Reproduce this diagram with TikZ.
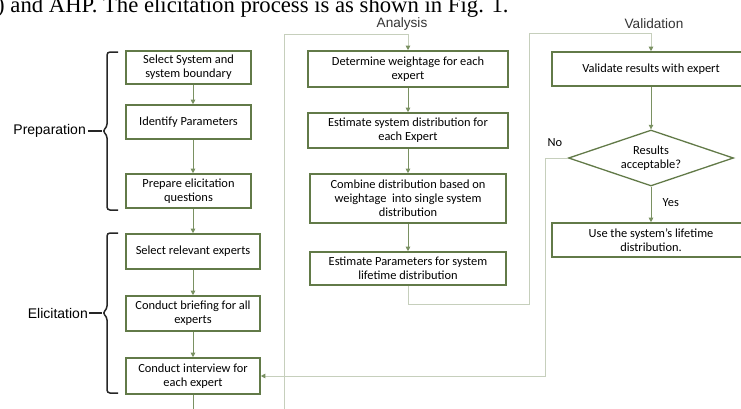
\documentclass[tikz,border=0pt]{standalone}
\usepackage{fontspec}
\setmainfont{Carlito}
\newfontfamily\headfont{Liberation Sans}
\newfontfamily\paperfont{Liberation Serif}
\usetikzlibrary{arrows.meta,shapes.geometric}
\definecolor{boxgreen}{RGB}{98,122,72}
\definecolor{arrowgreen}{RGB}{122,145,98}
\definecolor{loopgray}{RGB}{198,207,188}
\begin{document}
\begin{tikzpicture}[x=1pt, y=-1pt,
    stepbox/.style={draw=boxgreen, line width=1.6pt, fill=white, align=center,
      inner sep=1pt, font=\fontsize{12.4}{13.8}\selectfont},
    decision/.style={diamond, draw=boxgreen, line width=1.3pt, fill=white, align=center,
      aspect=2.9, inner sep=0pt, minimum width=165pt, minimum height=56pt,
      font=\fontsize{12.4}{13.8}\selectfont},
    flowline/.style={draw=arrowgreen, line width=0.7pt},
    flowarrow/.style={flowline, -{Triangle[length=4.5pt, width=4.5pt]}},
    loopline/.style={draw=loopgray, line width=0.9pt},
    looparrow/.style={loopline, -{Triangle[length=4.5pt, width=4.5pt, color=arrowgreen]}},
    colhead/.style={font=\headfont\fontsize{13.6}{16}\selectfont, text=black!80},
    sidelabel/.style={font=\headfont\fontsize{14}{16}\selectfont, inner sep=0pt},
    bracket/.style={draw=black!85, line width=1.5pt, rounded corners=3pt}]
    \useasboundingbox (0,0) rectangle (741,408);
    \clip (0,0) rectangle (741,408);
    % Texto del artículo
    \node[anchor=base west, inner sep=0pt, font=\paperfont\fontsize{22.7}{27}\selectfont]
      (paperline) at (-3,12) {) and AHP. The elicitation process is as shown in Fig. 1.};
    % Encabezados
    \node[colhead] (anahead) at (402,23.5) {Analysis};
    \node[colhead] (valhead) at (654,23.5) {Validation};
    % Preparación
    \node[stepbox, minimum width=125pt, minimum height=33pt] (prep1) at (188.5,67.5) {Select System and\\system boundary};
    \node[stepbox, minimum width=125pt, minimum height=34pt] (prep2) at (188.5,122) {Identify Parameters};
    \node[stepbox, minimum width=125pt, minimum height=34pt] (prep3) at (188.5,191) {Prepare elicitation\\questions};
    % Elicitación
    \node[stepbox, minimum width=134pt, minimum height=35pt] (elic1) at (193,251.5) {Select relevant experts};
    \node[stepbox, minimum width=134pt, minimum height=35pt] (elic2) at (193,313.5) {Conduct briefing for all\\experts};
    \node[stepbox, minimum width=134pt, minimum height=36pt] (elic3) at (193,376) {Conduct interview for\\each expert};
    % Análisis
    \node[stepbox, minimum width=200pt, minimum height=36pt] (ana1) at (408,69) {Determine weightage for each\\expert};
    \node[stepbox, minimum width=200pt, minimum height=35pt] (ana2) at (408,130.5) {Estimate system distribution for\\each Expert};
    \node[stepbox, minimum width=196pt, minimum height=49pt] (ana3) at (408,198.5) {Combine distribution based on\\weightage\ \ into single system\\distribution};
    \node[stepbox, minimum width=196pt, minimum height=33pt] (ana4) at (408,268.5) {Estimate Parameters for system\\lifetime distribution};
    % Validación
    \node[stepbox, minimum width=198pt, minimum height=34pt] (val1) at (651,69) {Validate results with expert};
    \node[decision] (check) at (651,158) {Results\\acceptable?};
    \node[stepbox, minimum width=198pt, minimum height=34pt] (val2) at (651,240) {Use the system’s lifetime\\distribution.};
    % Flechas de cada columna
    \draw[flowarrow] (prep1.south -| elic1) -- (prep2.north -| elic1);
    \draw[flowarrow] (prep2.south -| elic1) -- (prep3.north -| elic1);
    \draw[flowarrow] (prep3.south -| elic1) -- (elic1.north);
    \draw[flowarrow] (elic1) -- (elic2);
    \draw[flowarrow] (elic2) -- (elic3);
    \draw[flowarrow] (ana1) -- (ana2);
    \draw[flowarrow] (ana2) -- (ana3);
    \draw[flowarrow] (ana3) -- (ana4);
    \draw[flowarrow] (val1) -- (check);
    \draw[flowarrow] (check) -- (val2) node[pos=0.45, right=8pt, font=\fontsize{12.4}{14}\selectfont] (yeslabel) {Yes};
    % Conexiones entre columnas
    \coordinate (elicout) at (193,412);
    \draw[flowline] (elic3.south) -- (elicout);
    \coordinate (anain) at (284,412);
    \coordinate (anatop) at (284,34);
    \draw[looparrow] (anain) -- (anatop) -| (ana1.north);
    \coordinate (anaturn) at (529,304);
    \coordinate (valtop) at (529,33);
    \draw[looparrow] (ana4.south) |- (anaturn) -- (valtop) -| (val1.north);
    \coordinate (noturn) at (545,376);
    \draw[looparrow] (check.west) -| (noturn) -- (elic3.east);
    \node[font=\fontsize{12.4}{14}\selectfont] (nolabel) at (555,143) {No};
    % Llaves
    \draw[bracket] (118,52) -- (107,52) -- (107,127) -- (102.5,131) -- (107,135) -- (107,210) -- (118,210);
    \draw[bracket] (118,233) -- (107,233) -- (107,309) -- (102.5,313) -- (107,317) -- (107,393) -- (118,393);
    \coordinate (preptip) at (102,131);
    \coordinate (elictip) at (102,313);
    \node[sidelabel, anchor=east] (preplabel) at (86,131) {Preparation};
    \node[sidelabel, anchor=east] (eliclabel) at (88,313) {Elicitation};
    \draw[line width=1.2pt, black!85] (preplabel.east) ++(2,0) -- (preptip);
    \draw[line width=1.2pt, black!85] (eliclabel.east) ++(1,0) -- (elictip);
\end{tikzpicture}
\end{document}
